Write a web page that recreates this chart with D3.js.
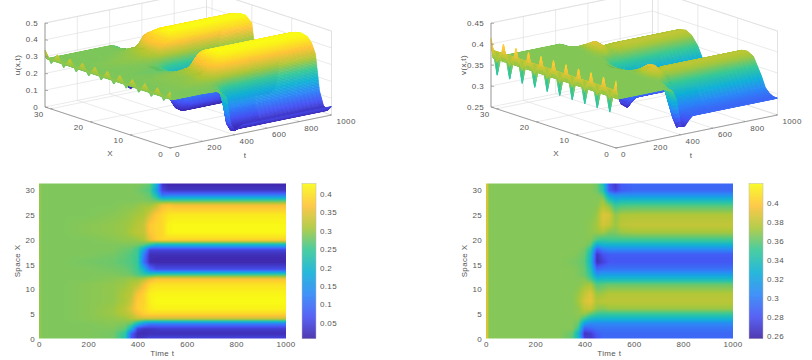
<!DOCTYPE html>
<html><head><meta charset="utf-8">
<script src="https://cdnjs.cloudflare.com/ajax/libs/d3/7.9.0/d3.min.js"></script>
<style>html,body{margin:0;padding:0;background:#fff}svg{display:block}text{font-family:"Liberation Sans",Arial,sans-serif;font-size:8px;fill:#555;letter-spacing:.35px}</style>
</head><body><svg id="c" width="812" height="360"></svg>
<script>
const parulaStops=["#3e26a8","#4753f4","#2d87f7","#11b1d6","#37c897","#abc739","#fec338","#f9fb15"];
const timeGrid=[12,100,200,300,350,375,400,425,450,475,500,525,550,600,1000];
const spaceGrid=[0,1,2,3,4,5,6,7.5,9,11,12,13,14,15.5,17,18,19,20,21.5,23,25,27,28,29,30,31.4];
const uField=[
[.285,.285,.285,.28,.23,.07,.025,.035,.05,.05,.05,.05,.05,.05,.05],
[.285,.285,.285,.28,.24,.08,.02,.015,.02,.02,.02,.02,.02,.02,.02],
[.285,.285,.285,.285,.27,.2,.05,.03,.03,.035,.04,.04,.04,.04,.04],
[.285,.285,.285,.29,.285,.27,.21,.15,.12,.12,.12,.12,.12,.12,.12],
[.285,.285,.29,.295,.3,.31,.325,.33,.33,.33,.33,.33,.33,.33,.33],
[.285,.285,.29,.3,.315,.33,.36,.38,.39,.39,.39,.39,.39,.39,.39],
[.285,.285,.29,.3,.32,.345,.38,.39,.41,.418,.418,.418,.418,.418,.418],
[.285,.285,.29,.295,.31,.33,.38,.385,.415,.428,.428,.428,.428,.428,.428],
[.285,.285,.29,.295,.31,.32,.365,.385,.415,.422,.422,.422,.422,.422,.422],
[.285,.285,.29,.295,.3,.31,.32,.355,.39,.4,.4,.4,.4,.4,.4],
[.285,.285,.285,.29,.295,.3,.3,.315,.35,.37,.37,.37,.37,.37,.37],
[.285,.285,.285,.285,.28,.275,.26,.24,.23,.24,.24,.24,.24,.24,.24],
[.285,.285,.285,.28,.275,.265,.25,.19,.1,.06,.06,.06,.06,.06,.06],
[.285,.285,.28,.275,.265,.26,.245,.1,.015,.012,.012,.012,.012,.012,.012],
[.285,.285,.285,.28,.27,.26,.25,.12,.02,.02,.02,.02,.02,.02,.02],
[.285,.285,.285,.285,.275,.27,.25,.17,.05,.05,.05,.05,.05,.05,.05],
[.285,.285,.285,.285,.285,.285,.28,.27,.24,.2,.2,.2,.2,.2,.2],
[.285,.285,.285,.29,.295,.295,.3,.31,.35,.38,.39,.39,.39,.39,.39],
[.285,.285,.29,.295,.3,.31,.32,.325,.37,.385,.39,.42,.425,.425,.425],
[.285,.285,.29,.295,.3,.305,.315,.325,.375,.385,.39,.42,.425,.425,.425],
[.285,.285,.285,.29,.295,.3,.305,.31,.34,.375,.39,.405,.41,.41,.41],
[.285,.285,.285,.285,.29,.29,.295,.3,.3,.32,.36,.37,.36,.36,.36],
[.285,.285,.285,.285,.285,.285,.285,.285,.28,.27,.25,.25,.25,.25,.25],
[.285,.285,.285,.285,.285,.285,.285,.28,.27,.22,.11,.12,.12,.12,.12],
[.285,.285,.285,.285,.285,.285,.28,.27,.26,.17,.05,.03,.03,.03,.03],
[.285,.285,.285,.285,.285,.285,.285,.28,.27,.2,.03,.01,.01,.01,.01]];
const vField=[
[.366,.366,.366,.366,.358,.335,.272,.268,.28,.29,.29,.29,.29,.29,.29],
[.366,.366,.366,.366,.36,.33,.265,.27,.285,.29,.29,.29,.29,.29,.29],
[.366,.366,.366,.366,.366,.35,.285,.29,.295,.295,.295,.295,.295,.295,.295],
[.366,.366,.366,.366,.366,.36,.315,.305,.305,.305,.305,.305,.305,.305,.305],
[.366,.366,.366,.366,.366,.366,.35,.335,.33,.33,.33,.33,.33,.33,.33],
[.366,.366,.366,.366,.366,.368,.37,.36,.352,.35,.35,.35,.35,.35,.35],
[.366,.366,.366,.366,.366,.368,.378,.38,.368,.366,.37,.37,.37,.37,.37],
[.366,.366,.366,.366,.366,.372,.385,.39,.375,.378,.378,.378,.378,.378,.378],
[.366,.366,.366,.366,.366,.37,.38,.388,.37,.372,.376,.376,.376,.376,.376],
[.366,.366,.366,.366,.366,.366,.37,.372,.355,.358,.36,.36,.36,.36,.36],
[.366,.366,.366,.366,.366,.366,.366,.355,.335,.335,.335,.335,.335,.335,.335],
[.366,.366,.366,.366,.366,.364,.36,.345,.31,.315,.315,.315,.315,.315,.315],
[.366,.366,.366,.366,.366,.364,.36,.34,.29,.295,.295,.295,.295,.295,.295],
[.366,.366,.366,.366,.364,.362,.358,.33,.262,.272,.282,.283,.283,.283,.283],
[.366,.366,.366,.366,.366,.364,.36,.335,.265,.28,.285,.285,.285,.285,.285],
[.366,.366,.366,.366,.366,.366,.362,.345,.285,.3,.305,.305,.305,.305,.305],
[.366,.366,.366,.366,.366,.366,.366,.36,.325,.33,.33,.33,.33,.33,.33],
[.366,.366,.366,.366,.366,.366,.366,.366,.355,.35,.352,.352,.352,.352,.352],
[.366,.366,.366,.366,.366,.366,.366,.368,.37,.372,.365,.365,.37,.372,.372],
[.366,.366,.366,.366,.366,.366,.366,.368,.372,.385,.38,.37,.378,.38,.38],
[.366,.366,.366,.366,.366,.366,.366,.366,.37,.388,.385,.368,.374,.375,.375],
[.366,.366,.366,.366,.366,.366,.366,.366,.366,.375,.365,.35,.354,.355,.355],
[.366,.366,.366,.366,.366,.366,.366,.366,.366,.37,.345,.33,.335,.335,.335],
[.366,.366,.366,.366,.366,.366,.366,.366,.366,.36,.32,.31,.31,.31,.31],
[.366,.366,.366,.366,.366,.366,.366,.366,.362,.345,.285,.272,.285,.29,.29],
[.366,.366,.366,.366,.366,.366,.366,.366,.362,.34,.28,.268,.285,.29,.29]];
const initialSpace=[0,1.57,3.14,4.71,6.28,7.85,9.42,11,12.57,14.14,15.71,17.28,18.85,20.42,21.99,23.56,25.13,26.7,28.27,29.85,31.4];
const uInitial=[.335,.27,.335,.27,.335,.27,.335,.27,.335,.27,.335,.27,.335,.27,.335,.27,.335,.27,.335,.27,.34];
const vInitial=[.41,.33,.41,.33,.41,.33,.41,.33,.41,.33,.41,.33,.41,.33,.41,.33,.41,.33,.41,.33,.415];
const uRidge=.295, vRidge=.385;
const timeTicks=[0,200,400,600,800,1000];
const spaceTicks3d=[0,10,20,30];
const spaceTicks=[0,5,10,15,20,25,30];
const uTicks3d=[0,.1,.2,.3,.4,.5];
const vTicks3d=[.25,.3,.35,.4,.45];
const uBarTicks=[.05,.1,.15,.2,.25,.3,.35,.4];
const vBarTicks=[.26,.28,.3,.32,.34,.36,.38,.4];
const uRange=[.0075,.428], vRange=[.2575,.42];
const tMax=1000,xMax=31.4,tSpike=4,tRidge=6;

const svg=d3.select("#c");
const defs=svg.append("defs");
defs.append("filter").attr("id","soft").attr("x","-5%").attr("y","-5%").attr("width","110%").attr("height","110%")
  .append("feGaussianBlur").attr("stdDeviation",.55);
const parula=d3.scaleLinear().domain(parulaStops.map((_,i)=>i/(parulaStops.length-1))).range(parulaStops).interpolate(d3.interpolateRgb);
const lut=d3.range(1024).map(i=>d3.rgb(parula(i/1023)));
const lutCss=lut.map(c=>c.formatRgb());

function fieldAt(o,t,X){
  const field=o.field,init=o.init;
  const ib=(g,v)=>Math.max(0,Math.min(g.length-2,d3.bisectRight(g,v)-1));
  if(t<=tSpike){
    const k=ib(initialSpace,X),f=(X-initialSpace[k])/(initialSpace[k+1]-initialSpace[k]);
    const s=t/tSpike;
    return (init[k]*(1-f)+init[k+1]*f)*(1-s)+o.ridge*s;
  }
  if(t<=tRidge) return o.ridge;
  const j=ib(spaceGrid,X),fy=(X-spaceGrid[j])/(spaceGrid[j+1]-spaceGrid[j]);
  const tt=Math.max(t,timeGrid[0]);
  const i=ib(timeGrid,tt),fx=(tt-timeGrid[i])/(timeGrid[i+1]-timeGrid[i]);
  const a=field[j][i]*(1-fx)+field[j][i+1]*fx,b=field[j+1][i]*(1-fx)+field[j+1][i+1]*fx;
  const z=a*(1-fy)+b*fy;
  if(t<timeGrid[0]){const s=(t-tRidge)/(timeGrid[0]-tRidge);return o.ridge*(1-s)+z*s;}
  return z;
}

function heat(o){
  const x=d3.scaleLinear().domain([0,tMax]).range(o.xr);
  const y=d3.scaleLinear().domain([0,xMax]).range(o.yr);
  const cn=d3.scaleLinear().domain(o.range).range([0,1023]).clamp(true);
  const w=Math.round(o.xr[1]-o.xr[0]),h=Math.round(o.yr[0]-o.yr[1]);
  const cv=document.createElement("canvas");cv.width=w;cv.height=h;
  const ctx=cv.getContext("2d"),im=ctx.createImageData(w,h);
  for(let py=0;py<h;py++)for(let px=0;px<w;px++){
    const t=px===0?tSpike+.01:x.invert(o.xr[0]+px+.5);
    const c=lut[Math.round(cn(fieldAt(o,t,y.invert(o.yr[1]+py+.5))))];
    const p=(py*w+px)*4;im.data[p]=c.r;im.data[p+1]=c.g;im.data[p+2]=c.b;im.data[p+3]=255;
  }
  ctx.putImageData(im,0,0);
  svg.append("image").attr("x",o.xr[0]).attr("y",o.yr[1]).attr("width",w).attr("height",h).attr("href",cv.toDataURL()).attr("filter","url(#soft)");
  const gx=svg.append("g").attr("transform",`translate(0,${o.yr[0]})`).call(d3.axisBottom(x).tickValues(timeTicks).tickFormat(d3.format("d")).tickSize(0).tickPadding(3));
  const gy=svg.append("g").attr("transform",`translate(${o.xr[0]},0)`).call(d3.axisLeft(y).tickValues(spaceTicks).tickSize(0).tickPadding(4));
  [gx,gy].forEach(g=>{g.select(".domain").remove();g.attr("font-size",null).attr("font-family",null);g.selectAll("text").attr("fill",null)});
  svg.append("text").attr("x",(o.xr[0]+o.xr[1])/2).attr("y",356).attr("text-anchor","middle").text("Time t");
  svg.append("text").attr("transform",`translate(${o.xr[0]-19.5},${(o.yr[0]+o.yr[1])/2})rotate(-90)`).attr("text-anchor","middle").text("Space X");
  const by=d3.scaleLinear().domain(o.range).range(o.yr);
  svg.append("g").selectAll("rect").data(d3.range(h)).join("rect")
    .attr("x",o.bar).attr("width",14).attr("y",d=>o.yr[1]+d).attr("height",1.3)
    .attr("fill",d=>lutCss[Math.round(cn(by.invert(o.yr[1]+d+.5)))]);
  svg.append("rect").attr("x",o.bar).attr("y",o.yr[1]).attr("width",14).attr("height",h).attr("fill","none").attr("stroke","#bbb").attr("stroke-width",.5);
  const gb=svg.append("g").attr("transform",`translate(${o.bar+14},0)`).call(d3.axisRight(by).tickValues(o.barTicks).tickFormat(d3.format("~g")).tickSize(0).tickPadding(4));
  gb.select(".domain").remove();gb.attr("font-size",null).attr("font-family",null);gb.selectAll("text").attr("fill",null);
}

function surface3d(o){
  const tPos=d3.scaleLinear().domain([0,tMax]).range([0,1]);
  const xPos=d3.scaleLinear().domain([0,xMax]).range([0,1]);
  const zPos=d3.scaleLinear().domain(o.zr).range([0,84]);
  const P=(t,X,z)=>[o.cx+tPos(t)*161.5-xPos(X)*125,o.cy-tPos(t)*33-xPos(X)*41-zPos(z)];
  const L=(a,b,st,w)=>svg.append("path").attr("d",d3.line()([a,b])).attr("stroke",st).attr("stroke-width",w||.6).attr("fill","none");
  const z0=o.zr[0],z1=o.zr[1],grid="#dcdcdc";
  o.zt.forEach(z=>{L(P(0,xMax,z),P(tMax,xMax,z),grid);L(P(tMax,xMax,z),P(tMax,0,z),grid)});
  timeTicks.forEach(t=>{L(P(t,0,z0),P(t,xMax,z0),grid);L(P(t,xMax,z0),P(t,xMax,z1),grid)});
  spaceTicks3d.forEach(X=>{L(P(0,X,z0),P(tMax,X,z0),grid);L(P(tMax,X,z0),P(tMax,X,z1),grid)});
  L(P(tMax,xMax,z0),P(tMax,xMax,z1),grid);L(P(tMax,0,z0),P(tMax,0,z1),grid);
  L(P(0,xMax,z1),P(tMax,xMax,z1),grid);L(P(tMax,xMax,z1),P(tMax,0,z1),grid);
  const cv=document.createElement("canvas");cv.width=812;cv.height=175;
  const ctx=cv.getContext("2d");ctx.lineWidth=.5;
  const cn=d3.scaleLinear().domain(o.range).range([0,1023]).clamp(true);
  const ts=[0,2,4,6,9,12].concat(d3.range(16,600,4),d3.range(600,1001,25));
  const xs=d3.range(0,xMax,.04).concat([xMax]);
  for(let j=xs.length-2;j>=0;j--)for(let i=ts.length-2;i>=0;i--){
    const q=[[ts[i],xs[j]],[ts[i+1],xs[j]],[ts[i+1],xs[j+1]],[ts[i],xs[j+1]]];
    const zs=q.map(d=>fieldAt(o,d[0],d[1]));
    const col=lutCss[Math.round(cn(d3.mean(zs)))];
    ctx.fillStyle=col;ctx.strokeStyle=col;ctx.beginPath();
    q.forEach((d,k)=>{const p=P(d[0],d[1],zs[k]);k?ctx.lineTo(p[0],p[1]):ctx.moveTo(p[0],p[1])});
    ctx.closePath();ctx.fill();ctx.stroke();
  }
  svg.append("image").attr("x",0).attr("y",0).attr("width",812).attr("height",175).attr("href",cv.toDataURL()).attr("filter","url(#soft)");
  const ax="#8a8a8a";
  L(P(0,xMax,z0),P(0,xMax,z1),ax,.8);L(P(0,xMax,z0),P(0,0,z0),ax,.8);L(P(0,0,z0),P(tMax,0,z0),ax,.8);
  o.zt.forEach(z=>{const p=P(0,xMax,z);L(p,[p[0]+3,p[1]+.4],ax,.7);
    svg.append("text").attr("x",p[0]-7).attr("y",p[1]+2.5).attr("text-anchor","end").text(d3.format("~g")(z))});
  spaceTicks3d.forEach(X=>{const p=P(0,X,z0);L(p,[p[0]+2,p[1]-.4],ax,.7);
    svg.append("text").attr("x",p[0]-7).attr("y",p[1]+8.5).attr("text-anchor","end").text(X)});
  timeTicks.forEach(t=>{const p=P(t,0,z0);L(p,[p[0]-1.5,p[1]-.5],ax,.7);
    svg.append("text").attr("x",p[0]+5).attr("y",p[1]+9).attr("text-anchor","start").text(t)});
  svg.append("text").attr("x",o.cx-60).attr("y",156).attr("text-anchor","middle").text("X");
  svg.append("text").attr("x",o.cx+75).attr("y",158).attr("text-anchor","middle").text("t");
  svg.append("text").attr("transform",`translate(${o.cx-150},65)rotate(-90)`).attr("text-anchor","middle").text(o.label);
}

surface3d({cx:170,cy:148,zr:[0,.5],zt:uTicks3d,range:uRange,field:uField,init:uInitial,ridge:uRidge,label:"u(x,t)"});
surface3d({cx:616,cy:148,zr:[.25,.45],zt:vTicks3d,range:vRange,field:vField,init:vInitial,ridge:vRidge,label:"v(x,t)"});
heat({xr:[39,285.5],yr:[338.5,183.5],range:uRange,field:uField,init:uInitial,ridge:uRidge,bar:302,barTicks:uBarTicks});
heat({xr:[486,732.5],yr:[338.5,183.5],range:vRange,field:vField,init:vInitial,ridge:vRidge,bar:749,barTicks:vBarTicks});
</script></body></html>
